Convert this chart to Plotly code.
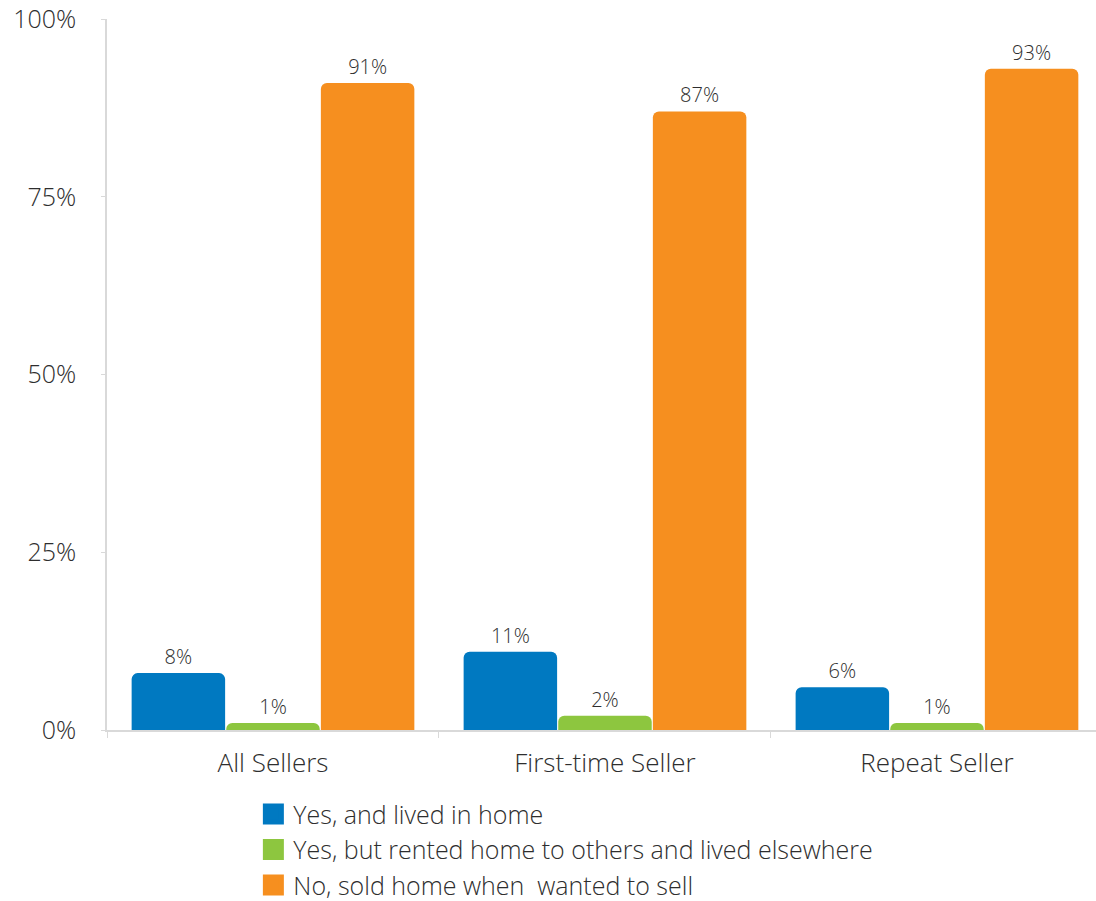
import plotly.graph_objects as go

categories = ["All Sellers", "First-time Seller", "Repeat Seller"]
series_names = [
    "Yes, and lived in home",
    "Yes, but rented home to others and lived elsewhere",
    "No, sold home when  wanted to sell",
]
lived_in_home = [8, 11, 6]
rented_to_others = [1, 2, 1]
sold_when_wanted = [91, 87, 93]
y_ticks = [0, 25, 50, 75, 100]
y_tick_labels = ["0%", "25%", "50%", "75%", "100%"]

colors = ["#0079C1", "#8DC63F", "#F68F1F"]
values = [lived_in_home, rented_to_others, sold_when_wanted]

FONT = "Open Sans"
TXT = "#2E2E2E"

fig = go.Figure()
for name, vals, col in zip(series_names, values, colors):
    fig.add_trace(go.Bar(
        name=name, x=categories, y=vals,
        marker=dict(color=col, line=dict(width=0)),
        text=[f"{v}%" for v in vals], textposition="outside",
        textfont=dict(family=FONT, size=20, color=TXT, weight=300),
        cliponaxis=False, showlegend=False,
    ))
    fig.add_trace(go.Scatter(
        name=name, x=[None], y=[None], mode="markers",
        marker=dict(symbol="square", size=24, color=col,
                    line=dict(width=5, color=col)),
        showlegend=True,
    ))

fig.update_layout(
    width=1096, height=901,
    margin=dict(l=107, r=0, t=19, b=171, autoexpand=False),
    paper_bgcolor="white", plot_bgcolor="white",
    barmode="group", bargap=0.145, bargroupgap=0.012,
    barcornerradius=6,
    font=dict(family=FONT, color=TXT, weight=300),
    showlegend=True,
    legend=dict(
        x=0.148, xanchor="left", y=-0.086, yanchor="top",
        orientation="v", font=dict(family=FONT, size=25, color=TXT, weight=300),
        itemsizing="trace", bgcolor="rgba(0,0,0,0)",
        tracegroupgap=0,
    ),
    xaxis=dict(
        range=[-0.5, 2.479], showgrid=False, showline=True,
        linecolor="#D9D9D9", linewidth=1.5, automargin=False,
        ticks="outside", tickson="boundaries", ticklen=6, tickcolor="#D9D9D9",
        tickfont=dict(family=FONT, size=26, color=TXT, weight=300), ticklabelstandoff=9,
        fixedrange=True,
    ),
    yaxis=dict(
        range=[0, 100], tickvals=y_ticks, ticktext=y_tick_labels,
        showgrid=False, showline=True, linecolor="#D9D9D9", linewidth=1.5,
        ticks="outside", ticklen=4, tickcolor="#D9D9D9", automargin=False,
        tickfont=dict(family=FONT, size=25, color=TXT, weight=300), ticklabelstandoff=20,
        zeroline=False, fixedrange=True,
    ),
)

fig.write_html("out.html", config={"displayModeBar": False},
               post_script="document.body.style.margin='0';")
